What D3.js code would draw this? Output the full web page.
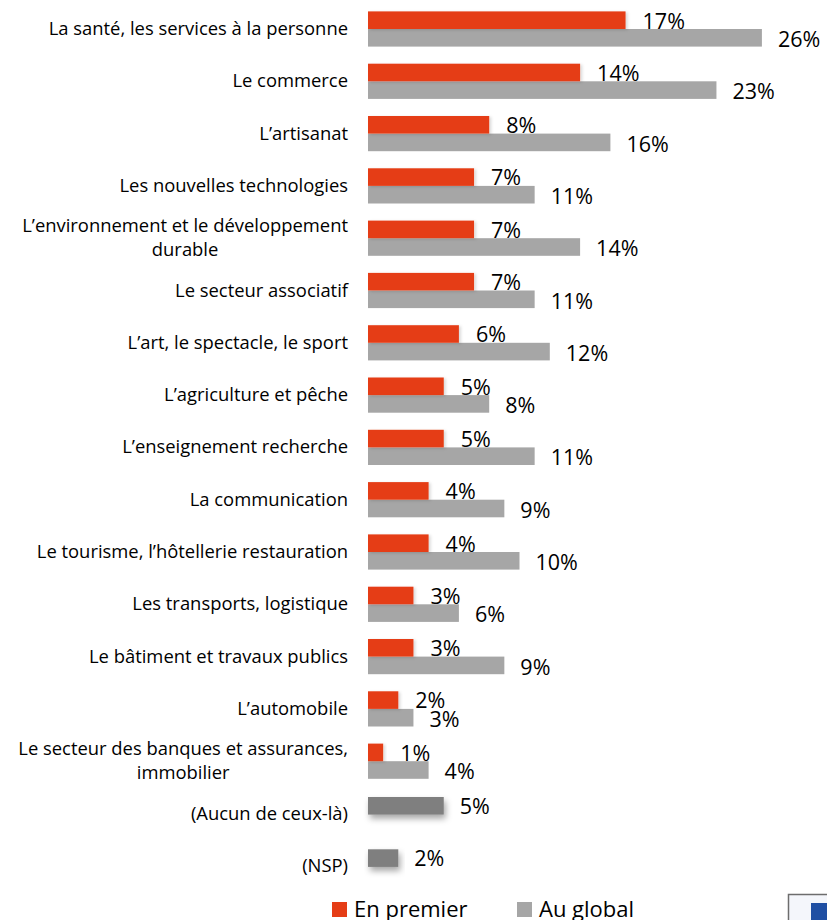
<!DOCTYPE html>
<html>
<head>
<meta charset="utf-8">
<script src="https://cdn.jsdelivr.net/npm/d3@7"></script>
<style>
  body { margin: 0; background: #fff; }
  text { font-family: "Open Sans", sans-serif; fill: #000; }
</style>
</head>
<body>
<div id="chart"></div>
<script>
var categories = [
    "La santé, les services à la personne",
    "Le commerce",
    "L’artisanat",
    "Les nouvelles technologies",
    "L’environnement et le développement|durable",
    "Le secteur associatif",
    "L’art, le spectacle, le sport",
    "L’agriculture et pêche",
    "L’enseignement recherche",
    "La communication",
    "Le tourisme, l’hôtellerie restauration",
    "Les transports, logistique",
    "Le bâtiment et travaux publics",
    "L’automobile",
    "Le secteur des banques et assurances,|immobilier",
    "(Aucun de ceux-là)",
    "(NSP)"
];
var enPremier = [17, 14, 8, 7, 7, 7, 6, 5, 5, 4, 4, 3, 3, 2, 1, null, null];
var auGlobal  = [26, 23, 16, 11, 14, 11, 12, 8, 11, 9, 10, 6, 9, 3, 4, 5, 2];
var legendLabels = ["En premier", "Au global"];

var chartSettings = {
    width: 827,
    height: 920,
    barLeft: 368,
    premierColor: "#E53D16",
    globalColor: "#A6A6A6",
    otherColor: "#7F7F7F"
};

var rows = categories.map(function (c, i) {
    return { cat: c, premier: enPremier[i], global: auGlobal[i], single: enPremier[i] == null };
});

var svg = d3.select("#chart")
    .append("svg")
    .attr("width", chartSettings.width)
    .attr("height", chartSettings.height);

var defs = svg.append("defs");
defs.append("filter").attr("id", "shadow")
    .attr("x", "-10%").attr("y", "-30%").attr("width", "130%").attr("height", "200%")
    .append("feDropShadow")
    .attr("dx", 2).attr("dy", 4).attr("stdDeviation", 3)
    .attr("flood-color", "#000").attr("flood-opacity", 0.35);
defs.append("filter").attr("id", "soft")
    .attr("x", "-10%").attr("y", "-30%").attr("width", "130%").attr("height", "160%")
    .append("feDropShadow")
    .attr("dx", 2).attr("dy", 1).attr("stdDeviation", 1.5)
    .attr("flood-color", "#000").attr("flood-opacity", 0.15);

var x = d3.scaleLinear()
    .domain([0, 30])
    .range([chartSettings.barLeft, chartSettings.barLeft + 30 * 15.15]);

var y = d3.scaleBand()
    .domain(categories)
    .range([2.85, 2.85 + 17 * 52.3]);

var bh = 17.6;
var mid = d => y(d.cat) + y.bandwidth() / 2;

// gray bars first so the red shadow sits on top
svg.selectAll("rect.global")
    .data(rows.filter(d => !d.single))
    .enter()
    .append("rect")
    .attr("class", "global")
    .attr("x", x(0))
    .attr("y", d => mid(d))
    .attr("width", d => x(d.global) - x(0))
    .attr("height", bh)
    .attr("fill", chartSettings.globalColor);

svg.selectAll("rect.premier")
    .data(rows.filter(d => !d.single))
    .enter()
    .append("rect")
    .attr("class", "premier")
    .attr("x", x(0))
    .attr("y", d => mid(d) - bh)
    .attr("width", d => x(d.premier) - x(0))
    .attr("height", bh)
    .attr("fill", chartSettings.premierColor)
    .attr("filter", "url(#soft)");

svg.selectAll("rect.other")
    .data(rows.filter(d => d.single))
    .enter()
    .append("rect")
    .attr("class", "other")
    .attr("x", x(0))
    .attr("y", d => mid(d) - 16.5)
    .attr("width", d => x(d.global) - x(0))
    .attr("height", bh)
    .attr("fill", chartSettings.otherColor)
    .attr("filter", "url(#shadow)");

// value labels
var valFont = "21.5px";
svg.selectAll("text.vp")
    .data(rows.filter(d => !d.single))
    .enter()
    .append("text")
    .attr("x", d => x(d.premier) + 17)
    .attr("y", d => mid(d) - 0.5)
    .style("font-size", valFont)
    .text(d => d.premier + "%");

svg.selectAll("text.vg")
    .data(rows.filter(d => !d.single))
    .enter()
    .append("text")
    .attr("x", d => x(d.global) + 16)
    .attr("y", d => mid(d) + 18)
    .style("font-size", valFont)
    .text(d => d.global + "%");

svg.selectAll("text.vo")
    .data(rows.filter(d => d.single))
    .enter()
    .append("text")
    .attr("x", d => x(d.global) + 16)
    .attr("y", d => mid(d) + 0.5)
    .style("font-size", valFont)
    .text(d => d.global + "%");

// category labels (right aligned block, wrapped lines centered inside)
var labelRight = 348;
rows.forEach(function (d) {
    var lines = d.cat.split("|");
    var g = svg.append("g");
    var lh = 24;
    var y0 = mid(d) - (lines.length - 1) * lh / 2 + 6;
    var texts = lines.map(function (l, i) {
        return g.append("text")
            .attr("y", y0 + i * lh)
            .style("font-size", "18.4px")
            .text(l);
    });
    if (lines.length === 1) {
        texts[0].attr("x", labelRight).attr("text-anchor", "end");
    } else {
        var w = d3.max(texts, t => t.node().getComputedTextLength());
        texts.forEach(t => t.attr("x", labelRight - w / 2).attr("text-anchor", "middle"));
    }
});

// legend
var legendColors = [chartSettings.premierColor, chartSettings.globalColor];
var legendX = [332, 517];
var legend = svg.selectAll("g.legend")
    .data(legendLabels)
    .enter()
    .append("g")
    .attr("transform", (d, i) => "translate(" + legendX[i] + ",902)");
legend.append("rect")
    .attr("width", 15)
    .attr("height", 15)
    .attr("fill", (d, i) => legendColors[i]);
legend.append("text")
    .attr("x", 22)
    .attr("y", 15)
    .style("font-size", "22px")
    .text(d => d);

// partial logo in the corner
svg.append("rect")
    .attr("x", 788.5).attr("y", 894.5).attr("width", 50).attr("height", 40)
    .attr("fill", "#f4f6fb").attr("stroke", "#6d6d6d").attr("stroke-width", 1.5);
svg.append("rect")
    .attr("x", 811).attr("y", 903).attr("width", 20).attr("height", 20)
    .attr("fill", "#1f4fa3");
</script>
</body>
</html>
